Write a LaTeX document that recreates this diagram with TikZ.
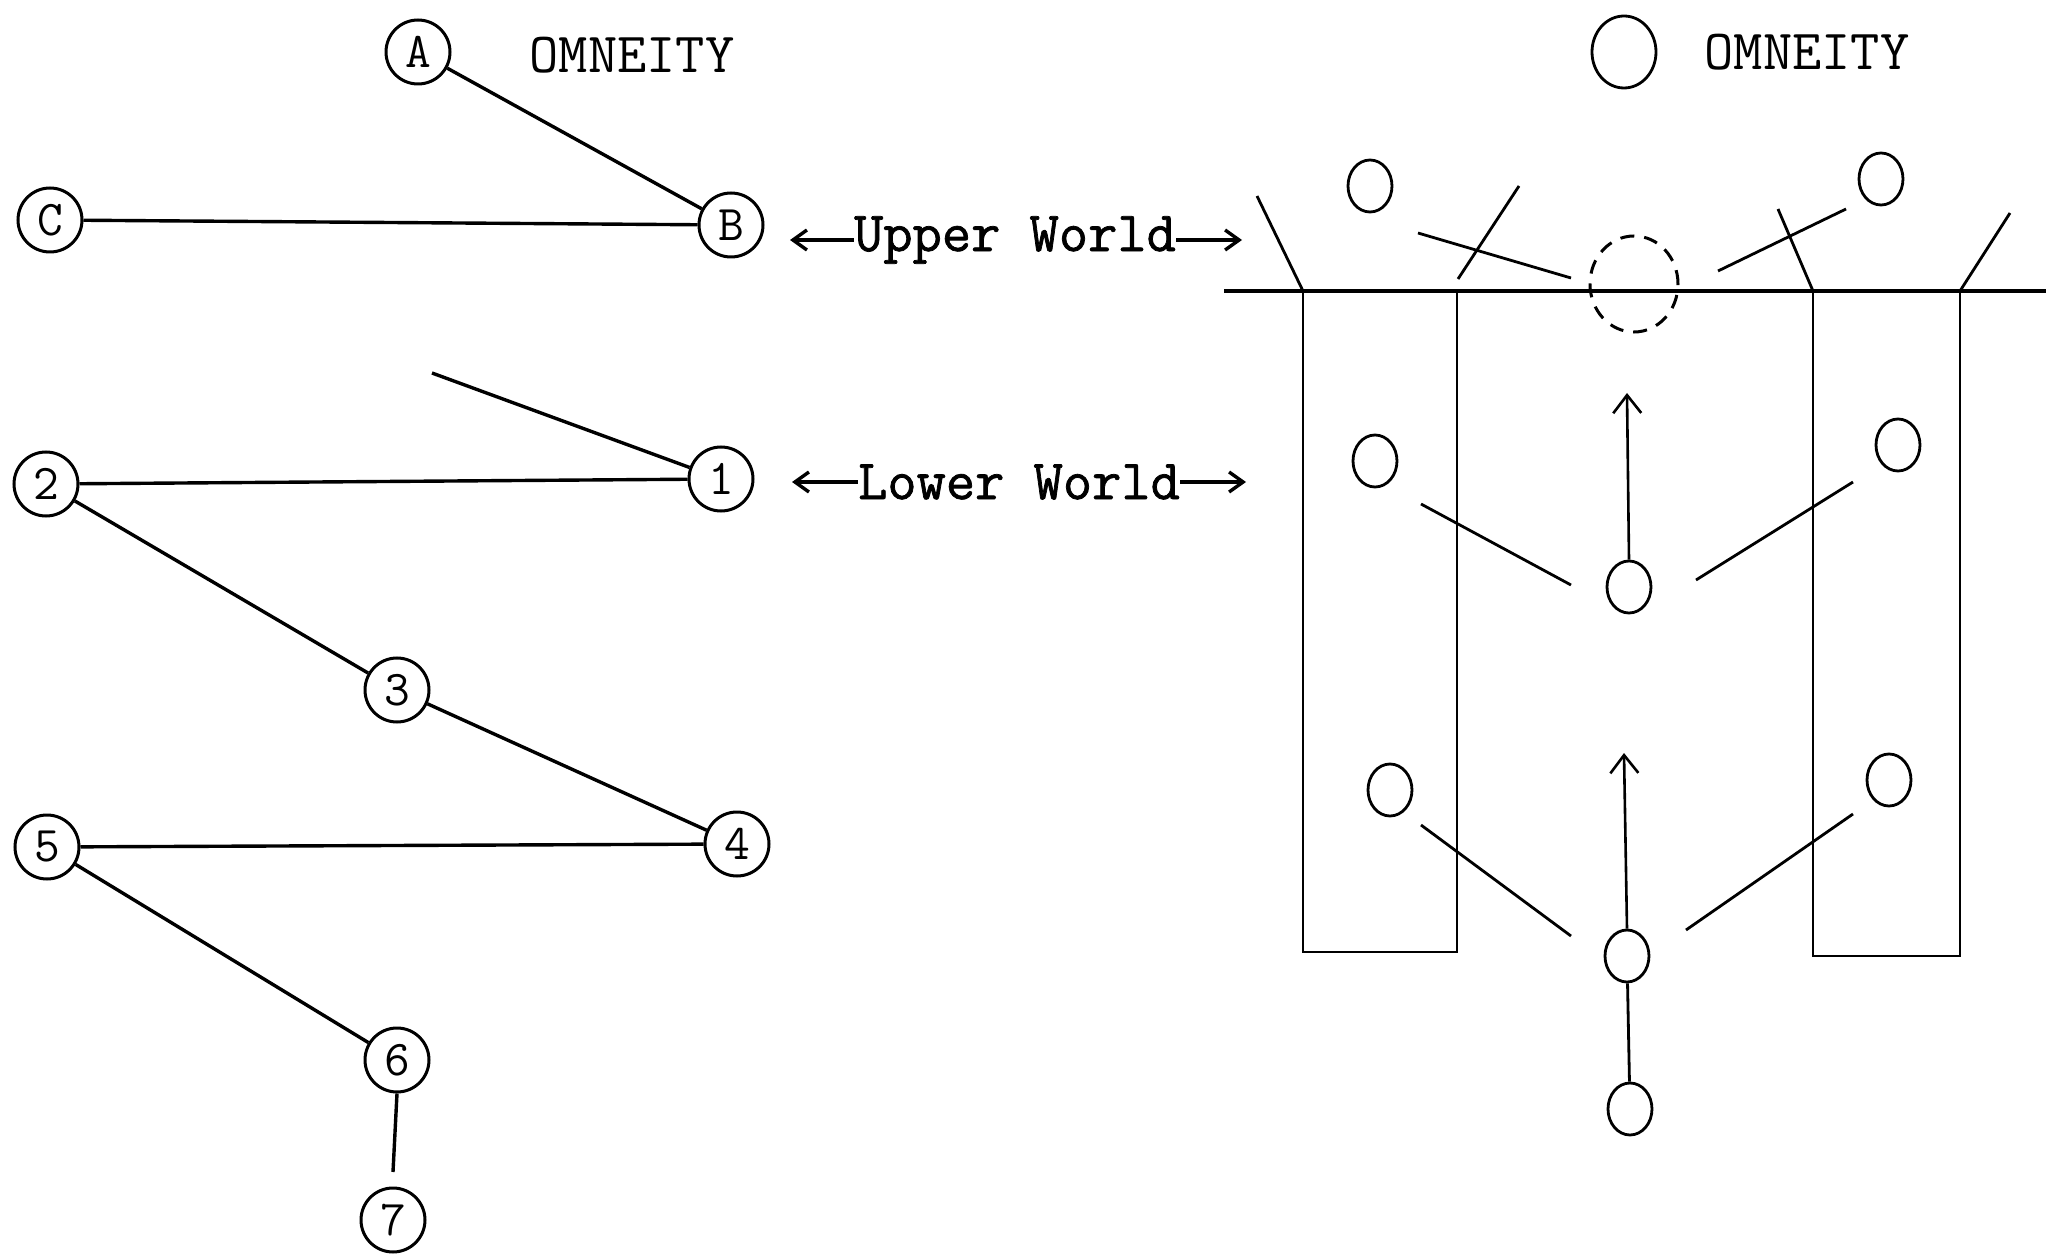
\documentclass[tikz,border=0pt]{standalone}
\usepackage{fontspec}
\newfontfamily\tw{Latin Modern Mono}
\newfontfamily\twb{Latin Modern Mono}[FakeBold=1.3]
\usetikzlibrary{shapes.geometric,arrows.meta}
\begin{document}
\begin{tikzpicture}[x=0.5pt,y=-0.5pt,
  lnode/.style={circle,draw,line width=1.5pt,minimum size=32pt,inner sep=0pt,font=\tw\fontsize{25}{25}\selectfont},
  snode/.style={ellipse,draw,line width=1.4pt,minimum width=22pt,minimum height=26pt,inner sep=0pt},
  lline/.style={line width=1.7pt},
  rline/.style={line width=1.4pt},
  lbl/.style={font=\tw\fontsize{28.4}{30}\selectfont,inner sep=0pt},
  lblb/.style={font=\twb\fontsize{28.4}{30}\selectfont,inner sep=0pt},
  tarr/.style={line width=1.7pt,-{Straight Barb[length=7pt,width=10pt]}},
  uarr/.style={line width=1.3pt,-{Straight Barb[length=9pt,width=14pt]}}
]
\useasboundingbox (0,0) rectangle (2053,1257);
% ---------- left diagram ----------
\node[lnode] (A) at (418,52) {A};
\node[lnode] (B) at (731,225) {B};
\node[lnode] (C) at (50,220) {C};
\node[lnode] (n1) at (721,479) {1};
\node[lnode] (n2) at (46,484) {2};
\node[lnode] (n3) at (397,690) {3};
\node[lnode] (n4) at (737,844) {4};
\node[lnode] (n5) at (47,847) {5};
\node[lnode] (n6) at (397,1060) {6};
\node[lnode] (n7) at (393,1220) {7};
\coordinate (f1) at (432,373);
\coordinate (g7) at (393,1172);
\node[lbl] (om1) at (632,55) {OMNEITY};
\draw[lline] (A) -- (B);
\draw[lline] (C) -- (B);
\draw[lline] (n1) -- (f1);
\draw[lline] (n2) -- (n1);
\draw[lline] (n2) -- (n3);
\draw[lline] (n3) -- (n4);
\draw[lline] (n5) -- (n4);
\draw[lline] (n5) -- (n6);
\draw[lline] (n6.south) -- (g7);
% ---------- labels in the middle ----------
\node[lblb] (uw) at (1015,240) {Upper World};
\node[lblb] (lw) at (1019,482) {Lower World};
\coordinate (uwl) at (790,240);
\coordinate (uwr) at (1242,240);
\coordinate (lwl) at (792,482);
\coordinate (lwr) at (1246,482);
\draw[tarr] (uw.west) -- (uwl);
\draw[tarr] (uw.east) -- (uwr);
\draw[tarr] (lw.west) -- (lwl);
\draw[tarr] (lw.east) -- (lwr);
% ---------- right diagram ----------
\node[ellipse,draw,line width=1.4pt,minimum width=32pt,minimum height=36pt,inner sep=0pt] (om) at (1624,52) {};
\node[lbl] (om2) at (1807,52) {OMNEITY};
\coordinate (h1) at (1224,291);
\coordinate (h2) at (2046,291);
\draw[line width=1.6pt] (h1) -- (h2);
% bars
\coordinate (b1t) at (1303,291); \coordinate (b1b) at (1303,952);
\coordinate (b2t) at (1457,291); \coordinate (b2b) at (1457,952);
\coordinate (b3t) at (1813,291); \coordinate (b3b) at (1813,956);
\coordinate (b4t) at (1960,291); \coordinate (b4b) at (1960,956);
\draw[rline] (b1t) -- (b1b) -- (b2b) -- (b2t);
\draw[rline] (b3t) -- (b3b) -- (b4b) -- (b4t);
% slants
\coordinate (s1) at (1257,196);
\coordinate (s2a) at (1458,279); \coordinate (s2) at (1519,186);
\coordinate (s3) at (1778,209);
\coordinate (s4) at (2010,213);
\draw[rline] (b1t) -- (s1);
\draw[rline] (s2a) -- (s2);
\draw[rline] (b3t) -- (s3);
\draw[rline] (b4t) -- (s4);
% upper circles
\node[snode] (ul) at (1370,186) {};
\node[snode] (ur) at (1881,179) {};
\node[ellipse,draw,dashed,dash pattern=on 7pt off 5pt,line width=1.5pt,minimum width=44pt,minimum height=48pt,inner sep=0pt] (dc) at (1634,284) {};
\coordinate (u1a) at (1418,233); \coordinate (u1b) at (1571,278);
\coordinate (u2a) at (1718,271); \coordinate (u2b) at (1846,209);
\draw[rline] (u1a) -- (u1b);
\draw[rline] (u2a) -- (u2b);
% middle row
\node[snode] (ml) at (1375,461) {};
\node[snode] (mr) at (1898,445) {};
\node[snode] (mc) at (1629,587) {};
\coordinate (a1) at (1627,393);
\draw[uarr] (mc.north) -- (a1);
\coordinate (m1a) at (1421,504); \coordinate (m1b) at (1571,585);
\coordinate (m2a) at (1696,580); \coordinate (m2b) at (1853,482);
\draw[rline] (m1a) -- (m1b);
\draw[rline] (m2a) -- (m2b);
% lower row
\node[snode] (ll) at (1390,790) {};
\node[snode] (lr) at (1889,780) {};
\node[snode] (lc) at (1627,956) {};
\coordinate (a2) at (1624,753);
\draw[uarr] (lc.north) -- (a2);
\coordinate (l1a) at (1421,825); \coordinate (l1b) at (1571,936);
\coordinate (l2a) at (1686,930); \coordinate (l2b) at (1853,814);
\draw[rline] (l1a) -- (l1b);
\draw[rline] (l2a) -- (l2b);
\node[snode] (bc) at (1630,1109) {};
\draw[rline] (lc) -- (bc);
\end{tikzpicture}
\end{document}
